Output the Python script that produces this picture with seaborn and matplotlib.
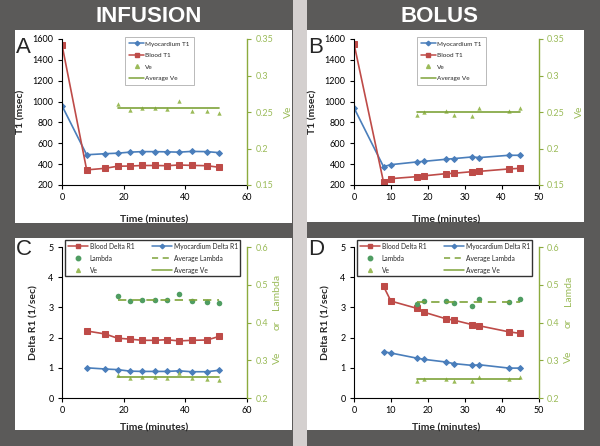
import numpy as np
import pandas as pd
import matplotlib
matplotlib.use("Agg")
import matplotlib.pyplot as plt
import seaborn as sns
from matplotlib.patches import Rectangle
from matplotlib.lines import Line2D
from matplotlib.ticker import FuncFormatter

sns.set_style("white")
plt.rcParams['font.family'] = ['Lato', 'DejaVu Sans']

# ---- data ----
inf_time = [0, 8, 14, 18, 22, 26, 30, 34, 38, 42, 47, 51]
inf_myo_t1 = [960, 490, 500, 505, 515, 520, 520, 518, 515, 522, 520, 510]
inf_blood_t1 = [1545, 345, 360, 380, 382, 387, 387, 385, 392, 388, 385, 370]

inf_ve_time = [18, 22, 26, 30, 34, 38, 42, 47, 51]
inf_ve = [0.261, 0.253, 0.255, 0.255, 0.254, 0.265, 0.252, 0.251, 0.249]
inf_lambda = [0.470, 0.457, 0.460, 0.460, 0.459, 0.476, 0.456, 0.454, 0.452]

inf_r1_time = [8, 14, 18, 22, 26, 30, 34, 38, 42, 47, 51]
inf_blood_dr1 = [2.22, 2.12, 1.98, 1.95, 1.91, 1.91, 1.93, 1.89, 1.91, 1.92, 2.04]
inf_myo_dr1 = [1.00, 0.96, 0.94, 0.89, 0.88, 0.88, 0.88, 0.90, 0.87, 0.87, 0.92]

bol_time = [0, 8, 10, 17, 19, 25, 27, 32, 34, 42, 45]
bol_myo_t1 = [940, 376, 395, 421, 427, 447, 453, 469, 463, 485, 485]
bol_blood_t1 = [1555, 228, 261, 280, 288, 309, 312, 328, 331, 354, 360]

bol_ve_time = [17, 19, 25, 27, 32, 34, 42, 45]
bol_ve = [0.246, 0.250, 0.251, 0.246, 0.244, 0.255, 0.251, 0.256]
bol_lambda = [0.448, 0.457, 0.457, 0.452, 0.444, 0.462, 0.453, 0.463]

bol_r1_time = [8, 10, 17, 19, 25, 27, 32, 34, 42, 45]
bol_blood_dr1 = [3.70, 3.21, 2.97, 2.84, 2.62, 2.58, 2.43, 2.39, 2.19, 2.14]
bol_myo_dr1 = [1.53, 1.49, 1.32, 1.28, 1.19, 1.14, 1.08, 1.10, 0.99, 0.99]

# ---- colours ----
BLUE = "#4a7ebb"
RED = "#be4b48"
VE_GREEN = "#9bbb59"
LAM_GREEN = "#4f9d62"
AVG_GREEN = "#7ea33a"
AXIS_GREEN = "#8cab3e"
DARK = "#5b5a59"
DIVIDER = "#d4d0cf"

W, H = 600, 446
fig = plt.figure(figsize=(6, 4.46), dpi=100)
fig.patch.set_facecolor(DARK)


def box(x0, y0, x1, y1, color):
    fig.patches.append(Rectangle((x0 / W, 1 - y1 / H), (x1 - x0) / W, (y1 - y0) / H,
                                 transform=fig.transFigure, facecolor=color,
                                 edgecolor="none", zorder=-10))


box(293, 0, 307, H, DIVIDER)
box(15, 30, 292, 223, "white")
box(307, 30, 584, 222, "white")
box(15, 238, 292, 430, "white")
box(307, 238, 584, 430, "white")

fig.text(149 / W, 1 - 22 / H, "INFUSION", color="white", fontsize=16,
         fontweight="bold", family="Liberation Sans", ha="center", va="baseline")
fig.text(440 / W, 1 - 22 / H, "BOLUS", color="white", fontsize=16,
         fontweight="bold", family="Liberation Sans", ha="center", va="baseline")

for letter, (lx, ly) in zip("ABCD", [(16, 53), (308, 53), (16, 255), (308, 255)]):
    fig.text(lx / W, 1 - ly / H, letter, fontsize=16, family="Liberation Sans",
             ha="left", va="baseline")


def make_axes(left, right, top, bottom):
    ax = fig.add_axes([left / W, 1 - bottom / H, (right - left) / W, (bottom - top) / H])
    ax.set_facecolor("none")
    ax2 = ax.twinx()
    for a in (ax, ax2):
        a.spines["top"].set_visible(False)
    ax.spines["right"].set_visible(False)
    ax2.spines["left"].set_visible(False)
    ax2.spines["bottom"].set_visible(False)
    for s in ("left", "bottom"):
        ax.spines[s].set_color("black")
        ax.spines[s].set_linewidth(0.8)
    ax2.spines["right"].set_color(AXIS_GREEN)
    ax2.spines["right"].set_linewidth(1.0)
    ax.tick_params(axis="both", direction="out", length=3, width=0.8, labelsize=6.5,
                   pad=3, colors="black", left=True, bottom=True)
    ax2.tick_params(axis="y", direction="out", length=3, width=0.8, labelsize=6.5,
                    pad=3, colors=AXIS_GREEN, labelcolor=VE_GREEN, right=True)
    ax2.yaxis.set_major_formatter(FuncFormatter(lambda v, p: f"{v:g}"))
    return ax, ax2


line_kw = dict(linewidth=1.2, sort=False, legend=False)


def t1_panel(ax, ax2, time, myo, blood, ve_time, ve, xmax, xstep):
    sns.lineplot(x=time, y=myo, ax=ax, color=BLUE, marker="D", markersize=3,
                 markeredgecolor=BLUE, **line_kw)
    sns.lineplot(x=time, y=blood, ax=ax, color=RED, marker="s", markersize=4.2,
                 markeredgecolor=RED, **line_kw)
    sns.scatterplot(x=ve_time, y=ve, ax=ax2, marker="^", color=VE_GREEN, s=10,
                    linewidth=0, legend=False)
    avg = np.mean(ve)
    sns.lineplot(x=[ve_time[0], ve_time[-1]], y=[avg, avg], ax=ax2, color=AVG_GREEN,
                 **line_kw)
    ax.set_xlim(0, xmax)
    ax.set_xticks(np.arange(0, xmax + 1, xstep))
    ax.set_ylim(200, 1600)
    ax.set_yticks(np.arange(200, 1601, 200))
    ax2.set_ylim(0.15, 0.35)
    ax2.set_yticks([0.15, 0.2, 0.25, 0.3, 0.35])
    ax.set_xlabel("Time (minutes)", fontsize=7.5, fontweight="bold")
    ax.set_ylabel("T1 (msec)", fontsize=7.5, fontweight="bold")
    ax2.set_ylabel("Ve", fontsize=7.5, color=VE_GREEN)


def r1_panel(ax, ax2, time, blood, myo, ve_time, ve, lam, xmax, xstep):
    sns.lineplot(x=time, y=blood, ax=ax, color=RED, marker="s", markersize=4.2,
                 markeredgecolor=RED, **line_kw)
    sns.lineplot(x=time, y=myo, ax=ax, color=BLUE, marker="D", markersize=3,
                 markeredgecolor=BLUE, **line_kw)
    sns.scatterplot(x=ve_time, y=lam, ax=ax2, marker="o", color=LAM_GREEN, s=16,
                    linewidth=0, legend=False)
    sns.scatterplot(x=ve_time, y=ve, ax=ax2, marker="^", color=VE_GREEN, s=10,
                    linewidth=0, legend=False)
    lam_avg = np.mean(lam)
    ve_avg = np.mean(ve)
    sns.lineplot(x=[ve_time[0], ve_time[-1]], y=[lam_avg, lam_avg], ax=ax2,
                 color=AVG_GREEN, linestyle=(0, (5, 3.5)), **line_kw)
    sns.lineplot(x=[ve_time[0], ve_time[-1]], y=[ve_avg, ve_avg], ax=ax2,
                 color=AVG_GREEN, **line_kw)
    ax.set_xlim(0, xmax)
    ax.set_xticks(np.arange(0, xmax + 1, xstep))
    ax.set_ylim(0, 5)
    ax.set_yticks(range(0, 6))
    ax2.set_ylim(0.2, 0.6)
    ax2.set_yticks([0.2, 0.3, 0.4, 0.5, 0.6])
    ax.set_xlabel("Time (minutes)", fontsize=7.5, fontweight="bold")
    ax.set_ylabel("Delta R1 (1/sec)", fontsize=7.5, fontweight="bold")


# panel positions in pixels (left, right, top, bottom)
axA, axA2 = make_axes(62, 247, 39, 185)
axB, axB2 = make_axes(354, 538.5, 39, 185)
axC, axC2 = make_axes(62, 247, 247, 398)
axD, axD2 = make_axes(354, 538.5, 247, 398)

t1_panel(axA, axA2, inf_time, inf_myo_t1, inf_blood_t1, inf_ve_time, inf_ve, 60, 20)
t1_panel(axB, axB2, bol_time, bol_myo_t1, bol_blood_t1, bol_ve_time, bol_ve, 50, 10)
r1_panel(axC, axC2, inf_r1_time, inf_blood_dr1, inf_myo_dr1, inf_ve_time, inf_ve,
         inf_lambda, 60, 20)
r1_panel(axD, axD2, bol_r1_time, bol_blood_dr1, bol_myo_dr1, bol_ve_time, bol_ve,
         bol_lambda, 50, 10)

# label placement
for ax, ax2, lx in [(axA, axA2, -0.2), (axB, axB2, -0.2)]:
    ax.yaxis.set_label_coords(lx, 0.5)
    ax.xaxis.set_label_coords(0.5, -0.21)
    ax2.yaxis.set_label_coords(1.2, 0.5)
for ax in (axC, axD):
    ax.yaxis.set_label_coords(-0.125, 0.5)
    ax.xaxis.set_label_coords(0.5, -0.17)

for x, words in [(277, [("Lambda", 292), ("or", 325), ("Ve", 358)]),
                 (568, [("Lamda", 291), ("or", 323), ("Ve", 357)])]:
    for word, y in words:
        fig.text(x / W, 1 - y / H, word, rotation=90, fontsize=7.5, color=VE_GREEN,
                 ha="center", va="center")

# legends
t1_handles = [
    Line2D([], [], color=BLUE, marker="D", markersize=2.3, lw=1.1),
    Line2D([], [], color=RED, marker="s", markersize=3.2, lw=1.1),
    Line2D([], [], color=VE_GREEN, marker="^", markersize=2.8, lw=0),
    Line2D([], [], color=AVG_GREEN, lw=1.1),
]
t1_labels = ["Myocardium T1", "Blood T1", "Ve", "Average Ve"]
for lx in (125, 417):
    leg = fig.legend(t1_handles, t1_labels, loc="upper left",
                     bbox_to_anchor=(lx / W, 1 - 37 / H), borderaxespad=0,
                     fontsize=4.6, handlelength=2.3, labelspacing=0.95,
                     handletextpad=0.25, fancybox=False, frameon=True,
                     borderpad=0.65)
    leg.get_frame().set_edgecolor("#9a9a9a")
    leg.get_frame().set_linewidth(0.6)

r1_handles = [
    Line2D([], [], color=RED, marker="s", markersize=3.2, lw=1.1),
    Line2D([], [], color=LAM_GREEN, marker="o", markersize=3.2, lw=0),
    Line2D([], [], color=VE_GREEN, marker="^", markersize=2.8, lw=0),
    Line2D([], [], color=BLUE, marker="D", markersize=2.3, lw=1.1),
    Line2D([], [], color=AVG_GREEN, lw=1.1, linestyle=(0, (4, 3))),
    Line2D([], [], color=AVG_GREEN, lw=1.1),
]
r1_labels = ["Blood Delta R1", "Lambda", "Ve",
             "Myocardium Delta R1", "Average Lambda", "Average Ve"]
for lx in (65, 357):
    leg = fig.legend(r1_handles, r1_labels, loc="upper left", ncol=2,
                     bbox_to_anchor=(lx / W, 1 - 240 / H), borderaxespad=0,
                     fontsize=4.8, handlelength=3.0, labelspacing=0.75,
                     handletextpad=0.3, columnspacing=2.6, fancybox=False,
                     frameon=True, borderpad=0.4)
    leg.get_frame().set_edgecolor("black")
    leg.get_frame().set_linewidth(1.0)

fig.savefig("out.png", dpi=100, facecolor=fig.get_facecolor())
